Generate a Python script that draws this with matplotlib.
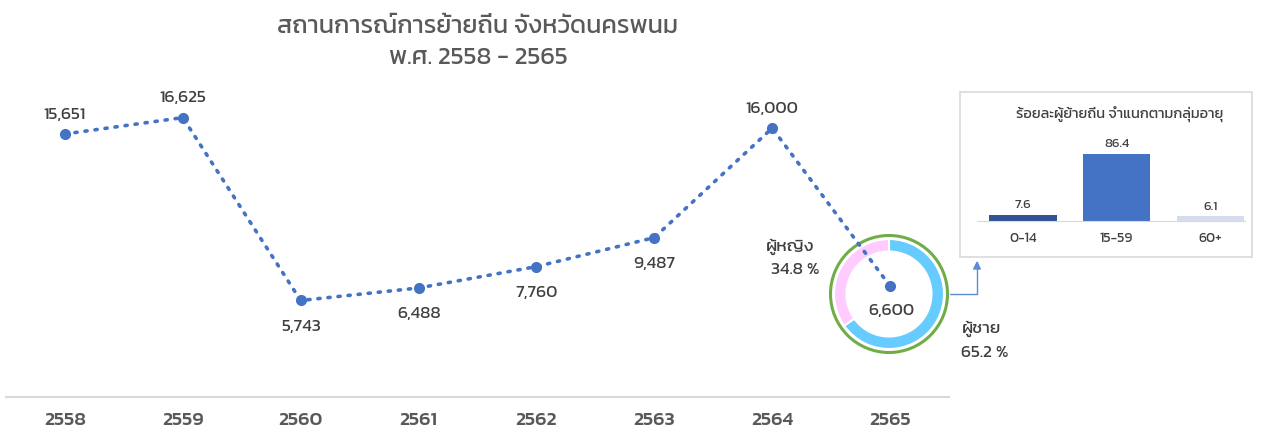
import numpy as np
import matplotlib.pyplot as plt
from matplotlib.patches import Wedge, Circle, Rectangle, FancyArrowPatch

plt.rcParams['font.family'] = ['Kanit', 'DejaVu Sans']
plt.rcParams['font.weight'] = 'normal'

years = ['2558', '2559', '2560', '2561', '2562', '2563', '2564', '2565']
migrants = [15651, 16625, 5743, 6488, 7760, 9487, 16000, 6600]
label_above = [True, True, False, False, False, False, True, False]

sex_labels = ['ผู้ชาย', 'ผู้หญิง']
sex_pct = [65.2, 34.8]

age_groups = ['0-14', '15-59', '60+']
age_pct = [7.6, 86.4, 6.1]

W, H = 1274, 438
fig = plt.figure(figsize=(W / 100, H / 100), dpi=100)


def fx(px):
    return px / W


def fy(py):
    return 1 - py / H


blue = '#4472C4'
txt = '#404040'

# donut (drawn first, under the line)
cx, cy, size = 889, 294, 140
dax = fig.add_axes([fx(cx - size / 2), fy(cy + size / 2), size / W, size / H])
dax.set_xlim(-size / 2, size / 2)
dax.set_ylim(-size / 2, size / 2)
dax.set_aspect('equal')
dax.axis('off')
start = 90
for pct, col in zip(sex_pct, ['#66CCFF', '#FFCCFF']):
    ang = pct * 3.6
    dax.add_patch(Wedge((0, 0), 55, start - ang, start, width=12.5,
                        facecolor=col, edgecolor='white', linewidth=1.5))
    start -= ang
dax.add_patch(Circle((0, 0), 58.5, fill=False, edgecolor='#70AD47', linewidth=2.2))

# main line chart
ax = fig.add_axes([fx(6), fy(397), (949 - 6) / W, (397 - 94.5) / H])
ax.patch.set_alpha(0)
x = np.arange(len(years))
ax.plot(x, migrants, linestyle=(0, (0.6, 2.2)), dash_capstyle='round',
        color=blue, linewidth=2.6, marker='o', markersize=7, zorder=3)
ax.set_xlim(-0.5, len(years) - 0.5)
ax.set_ylim(0, 18000)
for i, (v, up) in enumerate(zip(migrants, label_above)):
    if i == len(years) - 1:
        off = (1, -18)
    elif up:
        off = (0, 14)
    else:
        off = (0, -19)
    ax.annotate(f'{v:,}', (i, v), xytext=off, textcoords='offset points',
                ha='center', va='center', fontsize=12.5, color=txt)
for s in ['top', 'right', 'left']:
    ax.spines[s].set_visible(False)
ax.spines['bottom'].set_color('#D9D9D9')
ax.spines['bottom'].set_linewidth(1.5)
ax.set_yticks([])
ax.set_xticks(x)
ax.set_xticklabels(years, fontsize=14, fontweight='medium', color='#595959')
ax.tick_params(axis='x', length=0, pad=11)

fig.text(fx(478), fy(27), 'สถานการณ์การย้ายถิ่น จังหวัดนครพนม', ha='center', va='center',
         fontsize=18, color='#595959')
fig.text(fx(478), fy(58), 'พ.ศ. 2558 - 2565', ha='center', va='center',
         fontsize=18, color='#595959')

# donut labels
fig.text(fx(790), fy(247), sex_labels[1], ha='center', va='center', fontsize=12.5, color=txt)
fig.text(fx(795), fy(270), f'{sex_pct[1]} %', ha='center', va='center', fontsize=12.5, color=txt)
fig.text(fx(982), fy(329), sex_labels[0], ha='center', va='center', fontsize=12.5, color=txt)
fig.text(fx(985), fy(353), f'{sex_pct[0]} %', ha='center', va='center', fontsize=12.5, color=txt)

# inset box
fig.patches.append(Rectangle((fx(960), fy(257)), (1252 - 960) / W, (257 - 92) / H,
                             transform=fig.transFigure, facecolor='white',
                             edgecolor='#D9D9D9', linewidth=1.2, zorder=-1))
fig.text(fx(1120), fy(114), 'ร้อยละผู้ย้ายถิ่น จำแนกตามกลุ่มอายุ', ha='center', va='center',
         fontsize=10.5, color=txt)
iax = fig.add_axes([fx(977), fy(221), (1245 - 977) / W, (221 - 143.5) / H])
iax.patch.set_alpha(0)
iax.bar(range(3), age_pct, width=0.72, color=['#2F5597', blue, '#D6DCF0'])
iax.set_xlim(-0.49, 2.37)
iax.set_ylim(0, 100)
for i, v in enumerate(age_pct):
    iax.text(i, v + 6, f'{v}', ha='center', va='bottom', fontsize=9.5, color=txt)
for s in ['top', 'right', 'left']:
    iax.spines[s].set_visible(False)
iax.spines['bottom'].set_color('#D9D9D9')
iax.set_yticks([])
iax.set_xticks(range(3))
iax.set_xticklabels(age_groups, fontsize=10, color=txt)
iax.tick_params(axis='x', length=0, pad=8)

# connector arrow
fig.add_artist(FancyArrowPatch((fx(947), fy(294)), (fx(977), fy(258)),
                               connectionstyle='angle,angleA=0,angleB=90,rad=0',
                               arrowstyle='-|>', mutation_scale=12,
                               color='#5B8BD6', linewidth=1, transform=fig.transFigure))

fig.savefig('out.png', dpi=100)
